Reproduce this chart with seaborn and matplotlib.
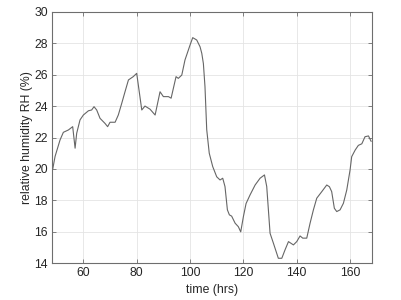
import matplotlib
matplotlib.use("Agg")
import matplotlib.pyplot as plt
import seaborn as sns
import pandas as pd

time_hrs = [48.5, 49.4, 51.25, 52.5, 54.4, 56.0, 56.9, 57.5, 58.75, 60.0, 61.9, 63.1, 64.0, 65.0,
            66.25, 68.1, 69.1, 70.0, 71.9, 73.1, 74.4, 75.6, 76.9, 78.7, 80.0, 81.9, 83.1, 85.0,
            86.9, 88.75, 90.0, 91.9, 92.9, 94.75, 95.6, 96.9, 98.1, 100.0, 101.0, 102.5, 103.75,
            104.4, 105.0, 105.6, 106.25, 107.2, 108.5, 110.0, 111.25, 112.25, 113.1, 114.0, 114.75,
            115.6, 116.9, 118.1, 119.0, 120.0, 121.0, 122.5, 124.4, 126.25, 127.9, 128.75, 130.0,
            131.25, 133.1, 134.4, 135.6, 136.9, 138.75, 140.0, 141.25, 142.25, 143.75, 145.0,
            146.25, 147.5, 149.4, 151.25, 152.25, 153.1, 154.1, 155.0, 156.25, 157.5, 158.75,
            160.0, 160.6, 161.9, 163.1, 164.4, 165.6, 166.9, 167.9]
rh_pct = [19.98, 20.8, 21.84, 22.33, 22.48, 22.69, 21.32, 22.27, 23.12, 23.43, 23.7, 23.75, 23.96, 23.75,
          23.22, 22.9, 22.69, 22.97, 22.97, 23.43, 24.18, 24.9, 25.66, 25.87, 26.08, 23.75, 24.0, 23.8,
          23.43, 24.91, 24.6, 24.6, 24.5, 25.87, 25.76, 25.97, 26.93, 27.88, 28.35, 28.2, 27.77,
          27.35, 26.7, 25.23, 22.5, 21.0, 20.15, 19.5, 19.3, 19.41, 18.88, 17.4, 17.08,
          17.0, 16.55, 16.33, 16.0, 16.97, 17.8, 18.35, 18.98, 19.41, 19.62, 18.88, 15.91,
          15.28, 14.32, 14.32, 14.85, 15.38, 15.17, 15.38, 15.74, 15.6, 15.6, 16.55,
          17.4, 18.14, 18.56, 18.98, 18.87, 18.56, 17.5, 17.29, 17.4, 17.82, 18.66,
          19.94, 20.78, 21.2, 21.5, 21.6, 22.05, 22.1, 21.75]

x_ticks = [60, 80, 100, 120, 140, 160]
y_ticks = [14, 16, 18, 20, 22, 24, 26, 28, 30]

df = pd.DataFrame({"time (hrs)": time_hrs, "RH": rh_pct})

sns.set_theme(style="whitegrid")
plt.rcParams['font.family'] = ['Liberation Sans', 'DejaVu Sans']

fig = plt.figure(figsize=(4.02, 3.0), dpi=100)
ax = fig.add_axes([0.1294, 0.1223, 0.7952, 0.8387])

sns.lineplot(data=df, x="time (hrs)", y="RH", ax=ax, color="#666666", linewidth=0.8)

ax.set_xlim(48.25, 168.1)
ax.set_ylim(14, 30)
ax.set_xticks(x_ticks)
ax.set_yticks(y_ticks)
ax.grid(True, color="#e4e4e4", linewidth=0.6)
for s in ax.spines.values():
    s.set_color("#6e6e6e")
    s.set_linewidth(0.8)
ax.tick_params(axis="both", direction="in", length=3, width=0.6, color="#6e6e6e",
               labelsize=8.8, labelcolor="#262626", top=True, right=True, bottom=True, left=True,
               pad=3)
ax.set_xlabel("time (hrs)", fontsize=8.8, color="#262626", labelpad=3)
ax.set_ylabel("relative humidity RH (%)", fontsize=8.8, color="#262626", labelpad=1)

fig.savefig("out.png", dpi=100)
